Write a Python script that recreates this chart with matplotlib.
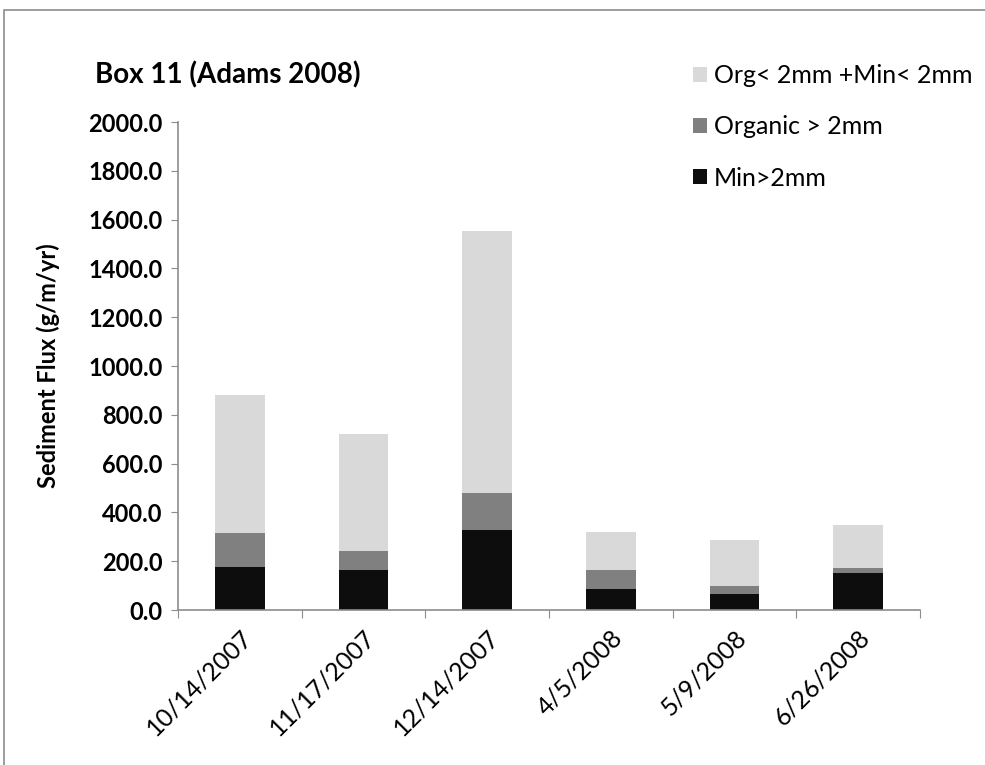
import matplotlib
matplotlib.use('Agg')
import matplotlib.pyplot as plt
from matplotlib.patches import Rectangle

dates = ['10/14/2007', '11/17/2007', '12/14/2007', '4/5/2008', '5/9/2008', '6/26/2008']
min_gt2 = [177, 164, 328, 86, 66, 150]
org_gt2 = [137, 79, 150, 78, 32, 21]
fine_lt2 = [567, 478, 1076, 157, 189, 177]

c_black = '#0d0d0d'
c_grey = '#808080'
c_light = '#d9d9d9'
axis_col = '#8c8c8c'

plt.rcParams['font.family'] = ['Lato', 'DejaVu Sans']

fig = plt.figure(figsize=(9.85, 7.65), dpi=100)
fig.patches.append(Rectangle((4 / 985, -0.1), 1.2, 1 - 10 / 765 + 0.1,
                             transform=fig.transFigure, fill=False,
                             edgecolor='#8c8c8c', linewidth=1.2))
ax = fig.add_axes([178 / 985, 1 - 610 / 765, (920 - 178) / 985, (610 - 122) / 765])

x = list(range(len(dates)))
w = 0.4
b1 = ax.bar(x, min_gt2, w, color=c_black, label='Min>2mm')
b2 = ax.bar(x, org_gt2, w, bottom=min_gt2, color=c_grey, label='Organic > 2mm')
bottom3 = [a + b for a, b in zip(min_gt2, org_gt2)]
b3 = ax.bar(x, fine_lt2, w, bottom=bottom3, color=c_light, label='Org< 2mm +Min< 2mm')

ax.set_xlim(-0.5, len(dates) - 0.5)
ax.set_ylim(0, 2000)
ax.set_yticks(range(0, 2001, 200))
ax.set_yticklabels([f'{v:.1f}' for v in range(0, 2001, 200)],
                   fontsize=17, fontweight='bold')

# category ticks at boundaries, labels at bar centres
ax.set_xticks([i - 0.5 for i in range(len(dates) + 1)])
ax.set_xticklabels([])
ax.set_xticks(x, minor=True)
ax.set_xticklabels(dates, minor=True, rotation=45, ha='right',
                   rotation_mode='anchor', fontsize=18)
ax.tick_params(axis='x', which='minor', length=0, pad=11)
ax.tick_params(axis='x', which='major', length=6, color=axis_col, direction='out')
ax.tick_params(axis='y', length=5, color=axis_col, direction='out', pad=6)

for s in ['top', 'right']:
    ax.spines[s].set_visible(False)
for s in ['left', 'bottom']:
    ax.spines[s].set_color(axis_col)
    ax.spines[s].set_linewidth(1.2)

fig.text(95 / 985, 1 - 75 / 765, 'Box 11 (Adams 2008)', fontsize=20,
         fontweight='bold', va='center', ha='left')
fig.text(48 / 985, 1 - 366 / 765, 'Sediment Flux (g/m/yr)', fontsize=17,
         fontweight='bold', rotation=90, va='center', ha='center')

leg = fig.legend([b3, b2, b1],
                 ['Org< 2mm +Min< 2mm', 'Organic > 2mm', 'Min>2mm'],
                 loc='upper left', bbox_to_anchor=(683 / 985, 1 - 54 / 765),
                 frameon=False, fontsize=18, handlelength=0.55, handleheight=0.55,
                 handletextpad=0.3, labelspacing=1.13, borderaxespad=0)

fig.savefig('out.png', dpi=100)
